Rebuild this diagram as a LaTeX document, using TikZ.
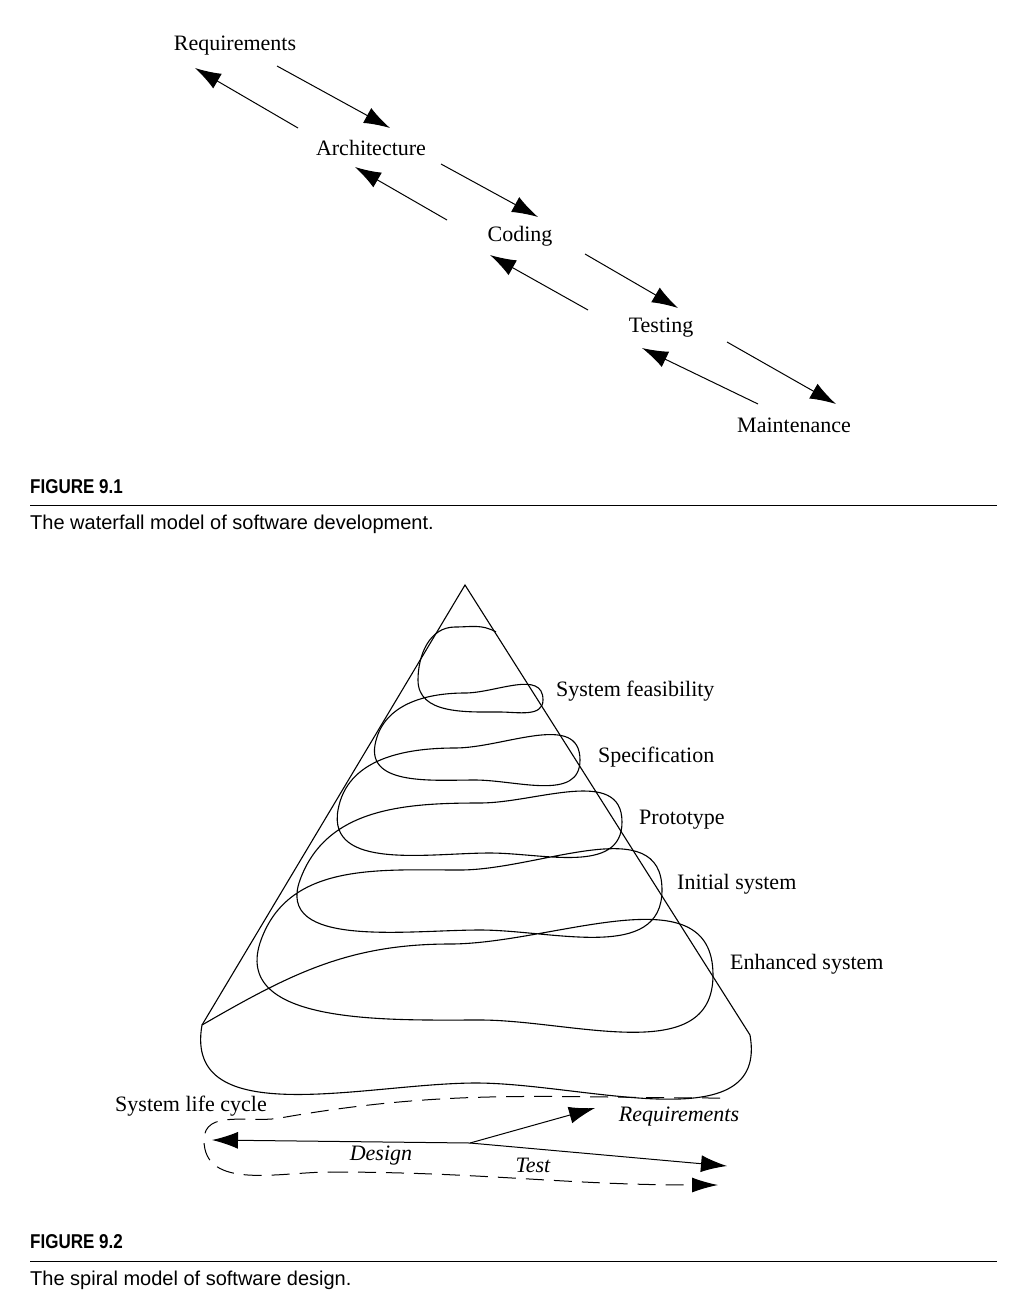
\documentclass[tikz,border=0pt]{standalone}
\usepackage{fontspec}
\setmainfont{Liberation Serif}
\setsansfont{Liberation Sans}
\usetikzlibrary{arrows.meta}
\begin{document}
\begin{tikzpicture}[x=1pt,y=-1pt,
  lbl/.style={font=\fontsize{22}{26}\selectfont,inner sep=0pt},
  captxt/.style={font=\sffamily\fontsize{20}{24}\selectfont,anchor=west,inner sep=0pt},
  fig/.style={font=\sffamily\bfseries\fontsize{20}{24}\selectfont,anchor=west,inner sep=0pt,xscale=0.85},
  arr/.style={line width=1pt,-{Latex[length=26pt,width=17pt]}},
  ln/.style={line width=1.1pt}]
\useasboundingbox (0,0) rectangle (1012,1312);
% waterfall
\node[lbl] (req) at (235,46) {Requirements};
\node[lbl] (arc) at (371,148) {Architecture};
\node[lbl] (cod) at (520,236) {Coding};
\node[lbl] (tst) at (661,328) {Testing};
\node[lbl] (mnt) at (794,425) {Maintenance};
\coordinate (d1a) at (277,66); \coordinate (d1b) at (390,128);
\coordinate (d2a) at (441,164); \coordinate (d2b) at (538,217);
\coordinate (d3a) at (585,254); \coordinate (d3b) at (678,308);
\coordinate (d4a) at (727,342); \coordinate (d4b) at (836,404);
\coordinate (u1a) at (298,128); \coordinate (u1b) at (195,68);
\coordinate (u2a) at (447,220); \coordinate (u2b) at (355,167);
\coordinate (u3a) at (588,310); \coordinate (u3b) at (490,255);
\coordinate (u4a) at (758,404); \coordinate (u4b) at (642,348);
\foreach \p in {d1,d2,d3,d4,u1,u2,u3,u4} \draw[arr] (\p a) -- (\p b);
% caption 1
\node[fig] (f1) at (30,487) {FIGURE 9.1};
\draw[line width=0.8pt] (30,505) -- (997,505);
\node[captxt] (c1) at (30,524) {The waterfall model of software development.};
% cone
\coordinate (apex) at (465,585);
\coordinate (L6) at (202,1025);
\coordinate (R6) at (750,1035);
\draw[ln] (L6) -- (apex) -- (R6);
\coordinate (R0) at (496,632);
\draw[ln] (R0) to[out=150,in=0] (455,627) to[out=180,in=90] (418,680)
  to[out=-90,in=180] (500,712) to[out=0,in=-90] (543,700)
  to[out=90,in=0] (465,693) to[out=180,in=80] (375,745)
  to[out=-100,in=180] (475,780) to[out=0,in=-90] (580,760)
  to[out=90,in=0] (455,748) to[out=180,in=80] (338,810)
  to[out=-100,in=180] (490,853) to[out=0,in=-90] (622,822)
  to[out=90,in=0] (480,803) to[out=180,in=70] (300,880)
  to[out=-110,in=180] (480,930) to[out=0,in=-90] (662,890)
  to[out=90,in=0] (460,870) to[out=180,in=70] (261,940)
  to[out=-110,in=180] (480,1020) to[out=0,in=-90] (713,975)
  to[out=90,in=0] (450,944) to[out=180,in=30] (L6)
  to[out=-100,in=180] (476,1083) to[out=0,in=-80] (R6);
\node[lbl,anchor=west] (sf) at (556,691) {System feasibility};
\node[lbl,anchor=west] (sp) at (598,757) {Specification};
\node[lbl,anchor=west] (pr) at (639,820) {Prototype};
\node[lbl,anchor=west] (is) at (677,884) {Initial system};
\node[lbl,anchor=west] (es) at (730,964) {Enhanced system};
% life cycle
\node[lbl] (slc) at (191,1106) {System life cycle};
\coordinate (o) at (470,1143);
\coordinate (dl) at (212,1140);
\coordinate (rq) at (595,1108);
\coordinate (te) at (727,1166);
\draw[line width=1pt,dash pattern=on 18pt off 10pt] (720,1098) to[out=180,in=10] (280,1118) to[out=190,in=90] (204,1140)
  to[out=-90,in=180] (330,1172);
\draw[line width=1pt,dash pattern=on 18pt off 10pt,-{Latex[length=26pt,width=15pt]}] (330,1172) to[out=0,in=180] (718,1185);
\draw[arr] (o) -- (dl);
\draw[arr] (o) -- (rq);
\draw[arr] (o) -- (te);
\node[lbl,font=\itshape\fontsize{22}{26}\selectfont] (dg) at (381,1156) {Design};
\node[lbl,font=\itshape\fontsize{22}{26}\selectfont] (ts) at (533,1165) {Test};
\node[lbl,font=\itshape\fontsize{22}{26}\selectfont] (rqt) at (679,1117) {Requirements};
% caption 2
\node[fig] (f2) at (30,1242) {FIGURE 9.2};
\draw[line width=0.8pt] (30,1261) -- (997,1261);
\node[captxt] (c2) at (30,1280) {The spiral model of software design.};
\end{tikzpicture}
\end{document}
